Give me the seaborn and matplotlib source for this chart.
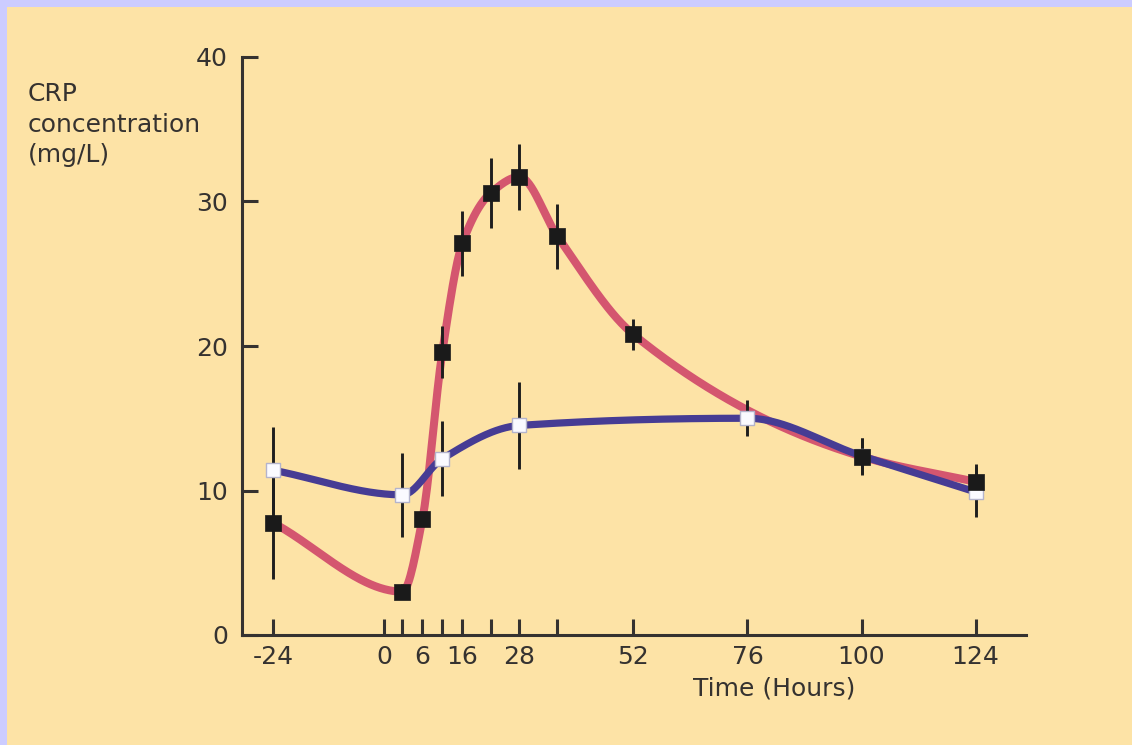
import numpy as np
import pandas as pd
import matplotlib
matplotlib.use("Agg")
import matplotlib.pyplot as plt
import seaborn as sns
from matplotlib.patches import Rectangle

# ---------------- data ----------------
red_hours = [-24, 3, 6, 11, 16, 22, 28, 36, 52, 100, 124]
red_crp = [7.75, 3.0, 8.0, 19.6, 27.1, 30.6, 31.7, 27.6, 20.8, 12.35, 10.6]
red_err = [3.9, 0.5, 0.3, 1.8, 2.25, 2.4, 2.3, 2.25, 1.1, 1.25, 1.2]

blue_hours = [-24, 3, 11, 28, 76, 100, 124]
blue_crp = [11.4, 9.7, 12.2, 14.5, 15.0, 12.4, 9.9]
blue_err = [3.0, 2.9, 2.6, 3.0, 1.25, 1.25, 1.7]

tick_hours = [-24, 0, 3, 6, 11, 16, 22, 28, 36, 52, 76, 100, 124]
tick_labels = ["-24", "0", "", "6", "", "16", "", "28", "", "52", "76", "100", "124"]
y_ticks = [0, 10, 20, 30, 40]

# ---------------- style ----------------
RED = "#D4566F"
BLUE = "#463C94"
BG = "#FDE3A6"
BORDER = "#CCCCFF"
INK = "#353230"

sns.set_theme(style="ticks")
plt.rcParams["font.family"] = ["DejaVu Sans"]

# axis scale: the time axis of the original is slightly stretched near 0-16 h
H_KNOTS = np.array([-200, -24, 0, 3, 6, 11, 16, 400], dtype=float)
U_KNOTS = np.array([-199.2, -23.2, 0, 3.9, 8.1, 12.3, 16.5, 400], dtype=float)


def fwd(h):
    return np.interp(h, H_KNOTS, U_KNOTS)


def inv(u):
    return np.interp(u, U_KNOTS, H_KNOTS)


def pchip(x, y, xn):
    """Monotone cubic (Fritsch-Carlson) used only to draw the smooth curve."""
    x = np.asarray(x, float)
    y = np.asarray(y, float)
    h = np.diff(x)
    delta = np.diff(y) / h
    n = len(x)
    d = np.zeros(n)
    for k in range(1, n - 1):
        if delta[k - 1] * delta[k] > 0:
            w1 = 2 * h[k] + h[k - 1]
            w2 = h[k] + 2 * h[k - 1]
            d[k] = (w1 + w2) / (w1 / delta[k - 1] + w2 / delta[k])
    d[0] = delta[0]
    d[-1] = delta[-1]
    idx = np.clip(np.searchsorted(x, xn) - 1, 0, n - 2)
    t = (xn - x[idx]) / h[idx]
    h00 = 2 * t**3 - 3 * t**2 + 1
    h10 = t**3 - 2 * t**2 + t
    h01 = -2 * t**3 + 3 * t**2
    h11 = t**3 - t**2
    return h00 * y[idx] + h10 * h[idx] * d[idx] + h01 * y[idx + 1] + h11 * h[idx] * d[idx + 1]


def smooth_frame(hours, values, name):
    u = fwd(np.asarray(hours, float))
    un = np.linspace(u[0], u[-1], 600)
    return pd.DataFrame({"hours": inv(un), "crp": pchip(u, values, un), "group": name})


red_df = pd.DataFrame({"hours": red_hours, "crp": red_crp, "err": red_err})
blue_df = pd.DataFrame({"hours": blue_hours, "crp": blue_crp, "err": blue_err})

# ---------------- figure ----------------
W, H = 1132, 745
fig = plt.figure(figsize=(W / 100, H / 100), dpi=100)
fig.patch.set_facecolor(BORDER)
fig.patches.append(Rectangle((7 / W, 0), 1, (H - 7) / H, transform=fig.transFigure,
                             facecolor=BG, edgecolor="none", zorder=-10))

ax = fig.add_axes([242 / W, 110 / H, 784 / W, 578 / H])
ax.set_facecolor("none")
ax.set_xscale("function", functions=(fwd, inv))

sns.lineplot(data=smooth_frame(red_hours, red_crp, "red"), x="hours", y="crp",
             color=RED, linewidth=5.8, estimator=None, sort=False, ax=ax, zorder=2)
sns.lineplot(data=smooth_frame(blue_hours, blue_crp, "blue"), x="hours", y="crp",
             color=BLUE, linewidth=5.2, estimator=None, sort=False, ax=ax, zorder=3)

ax.errorbar(blue_df["hours"], blue_df["crp"], yerr=blue_df["err"], fmt="none",
            ecolor="#1E1E1E", elinewidth=2.1, capsize=0, zorder=4)
ax.errorbar(red_df["hours"], red_df["crp"], yerr=red_df["err"], fmt="none",
            ecolor="#1E1E1E", elinewidth=2.1, capsize=0, zorder=4)

sns.scatterplot(data=blue_df, x="hours", y="crp", marker="s", s=100,
                color="#FAFAFF", edgecolor="#B4B4CC", linewidth=1.0, ax=ax, zorder=5)
sns.scatterplot(data=red_df, x="hours", y="crp", marker="s", s=120,
                color="#1A1A1A", edgecolor="#1A1A1A", linewidth=0.5, ax=ax, zorder=6)

ax.set_xlim(-30.6, 134.6)
ax.set_ylim(0, 40)
ax.set_xticks(tick_hours, tick_labels)
ax.set_yticks(y_ticks, [str(v) for v in y_ticks])

for side in ("top", "right"):
    ax.spines[side].set_visible(False)
for side in ("left", "bottom"):
    ax.spines[side].set_color(INK)
    ax.spines[side].set_linewidth(2.2)

ax.tick_params(axis="both", direction="in", length=11.5, width=2.2, colors=INK,
               labelsize=18, labelcolor=INK)
ax.tick_params(axis="x", pad=7)
ax.tick_params(axis="y", pad=10)

ax.set_xlabel("Time (Hours)", fontsize=18, color=INK)
ax.xaxis.set_label_coords(0.679, -0.072)
ax.set_ylabel("CRP\nconcentration\n(mg/L)", fontsize=18, color=INK, rotation=0,
              ha="left", va="top", linespacing=1.35)
ax.yaxis.set_label_coords(-0.273, 0.957)

fig.savefig("out.png", dpi=100, facecolor=fig.get_facecolor())
